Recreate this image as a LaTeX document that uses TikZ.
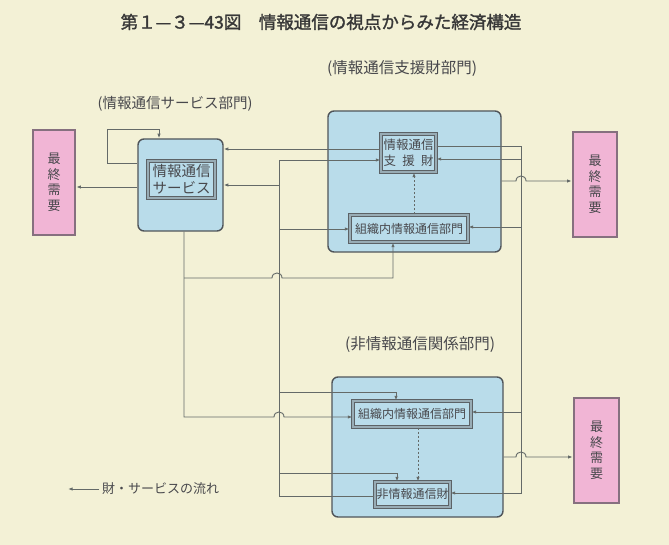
\documentclass[tikz,border=0pt]{standalone}
\usepackage{fontspec}
\newfontfamily\jp{Noto Sans CJK JP}
\newfontfamily\jptitle[FakeBold=1.6]{Noto Sans CJK JP}
\usetikzlibrary{arrows.meta}
\definecolor{bg}{HTML}{F3F1D6}
\definecolor{bluef}{HTML}{B9DCEA}
\definecolor{boxline}{HTML}{50555A}
\definecolor{innerline}{HTML}{5C6266}
\definecolor{dblc}{HTML}{98ACB5}
\definecolor{pinkf}{HTML}{F1B5D5}
\definecolor{pinkb}{HTML}{86707F}
\definecolor{linec}{HTML}{646A68}
\definecolor{txt}{HTML}{48484C}
\definecolor{titlec}{HTML}{383838}
\begin{document}
\begin{tikzpicture}[x=1pt,y=-1pt,
  conn/.style={draw=linec, line width=0.9pt},
  arr/.style={conn, -{Latex[length=4.6pt,width=3.4pt]}},
  outerbox/.style={draw=boxline, line width=1.4pt, fill=bluef, rounded corners=6pt, inner sep=0pt},
  innerbox/.style={draw=innerline, double=dblc, double distance=1.1pt, line width=1.1pt, fill=bluef, inner sep=0pt, text=txt, align=center},
  fdbox/.style={draw=pinkb, line width=2.6pt, fill=pinkf, inner sep=0pt, text=txt, align=center, font=\jp\fontsize{13}{15.5}\selectfont},
  lbl/.style={text=txt, inner sep=0pt},
]
\fill[bg] (0,0) rectangle (669,545);
\useasboundingbox (0,0) rectangle (669,545);

% title
\node[font=\jptitle\fontsize{17.5}{18}\selectfont, text=titlec, inner sep=0pt] (title) at (321,22) {第１—３—43図　情報通信の視点からみた経済構造};

% section labels
\node[lbl, font=\jp\fontsize{15.5}{16}\selectfont] (labSup) at (402,69) {(情報通信支援財部門)};
\node[lbl, font=\jp\fontsize{14.5}{16}\selectfont] (labSvc) at (175,104) {(情報通信サービス部門)};
\node[lbl, font=\jp\fontsize{15.5}{16}\selectfont] (labNon) at (420,345) {(非情報通信関係部門)};

% outer boxes
\node[outerbox, minimum width=85pt, minimum height=92pt] (svcOuter) at (180.5,185) {};
\node[outerbox, minimum width=173pt, minimum height=141pt] (supOuter) at (414.5,181.5) {};
\node[outerbox, minimum width=171pt, minimum height=140pt] (nonOuter) at (417.5,447) {};

% inner boxes
\node[innerbox, minimum width=67pt, minimum height=37pt, font=\jp\fontsize{14.5}{17}\selectfont] (svcIn) at (181.5,179.5) {情報通信\\サービス};
\node[innerbox, minimum width=55pt, minimum height=38pt, font=\jp\fontsize{12.5}{16}\selectfont] (supIn) at (408.5,153) {情報通信\\支\hspace{0.5em}援\hspace{0.5em}財};
\node[innerbox, minimum width=118pt, minimum height=27pt, font=\jp\fontsize{12}{14}\selectfont] (orgTop) at (409,228.5) {組織内情報通信部門};
\node[innerbox, minimum width=118pt, minimum height=26pt, font=\jp\fontsize{12}{14}\selectfont] (orgBot) at (412,414) {組織内情報通信部門};
\node[innerbox, minimum width=75pt, minimum height=25pt, font=\jp\fontsize{12}{14}\selectfont] (nonIn) at (412.5,494.5) {非情報通信財};

% final demand boxes
\node[fdbox, minimum width=42pt, minimum height=105pt] (fdL) at (54,182.5) {最\\終\\需\\要};
\node[fdbox, minimum width=44pt, minimum height=105pt] (fdR1) at (595,184.5) {最\\終\\需\\要};
\node[fdbox, minimum width=45pt, minimum height=105pt] (fdR2) at (596.5,450.5) {最\\終\\需\\要};

% service sector: self-loop and final demand
\draw[arr] (svcOuter.west |- 0,163) -- (107,163) -- (107,129) -| (svcOuter.north -| 159,0);
\draw[arr] (svcOuter.west |- 0,187) -- (fdL.east |- 0,187);

% support goods -> service
\draw[arr] (supIn.west |- 0,149) -- (svcOuter.east |- 0,149);

% non-IT goods bus (left)
\draw[arr] (nonIn.west |- 0,496) -- (279,496) -- (279,160) -- (supIn.west |- 0,160);
\draw[arr] (279,185) -- (svcOuter.east |- 0,185);
\draw[arr] (279,229) -- (orgTop.west |- 0,229);
\draw[arr] (279,392) -| (orgBot.north -| 396,0);
\draw[arr] (279,473) -| (nonIn.north -| 397,0);

% service output
\draw[arr] (svcOuter.south -| 184,0) -- (184,417) -- (274,417)
  .. controls (274,410.3) and (284,410.3) .. (284,417) -- (orgBot.west |- 0,417);
\draw[arr] (184,278) -- (272,278)
  .. controls (272,271.3) and (282,271.3) .. (282,278) -| (orgTop.south -| 393,0);

% support goods bus (right)
\draw[arr] (supIn.east |- 0,146) -- (521,146) -- (521,493) -- (nonIn.east |- 0,493);
\draw[arr] (521,159) -- (supIn.east |- 0,159);
\draw[arr] (521,227) -- (orgTop.east |- 0,227);
\draw[arr] (521,412) -- (orgBot.east |- 0,412);

% to final demand (right)
\draw[arr] (supOuter.east |- 0,181) -- (516,181)
  .. controls (516,174.3) and (526,174.3) .. (526,181) -- (fdR1.west |- 0,181);
\draw[arr] (nonOuter.east |- 0,457) -- (516,457)
  .. controls (516,450.3) and (526,450.3) .. (526,457) -- (fdR2.west |- 0,457);

% dashed internal flows
\draw[arr, dash pattern=on 2pt off 2pt] (orgTop.north -| 414,0) -- (supIn.south -| 414,0);
\draw[arr, dash pattern=on 2pt off 2pt] (orgBot.south -| 418,0) -- (nonIn.north -| 418,0);

% legend
\node[lbl, anchor=west, font=\jp\fontsize{13}{14}\selectfont] (leg) at (102,489) {財・サービスの流れ};
\draw[arr] (leg.west) ++(-3,0) coordinate (legS) -- ++(-31,0);
\end{tikzpicture}
\end{document}
